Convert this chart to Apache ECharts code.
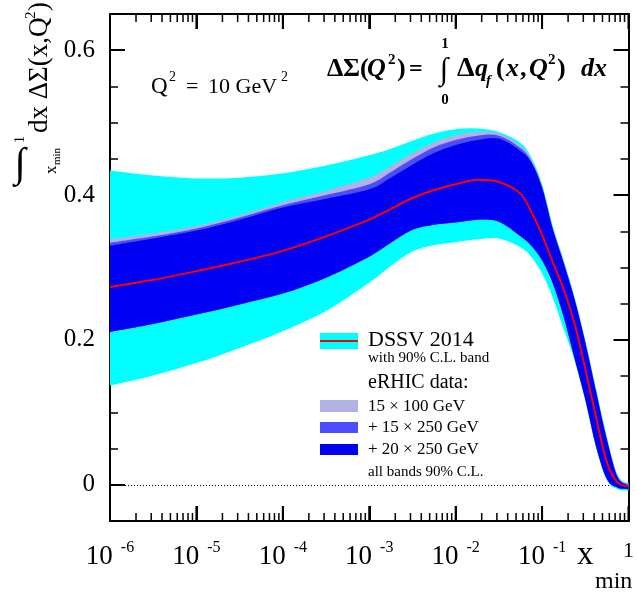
<!DOCTYPE html>
<html>
<head>
<meta charset="utf-8">
<script src="https://cdn.jsdelivr.net/npm/echarts@6/dist/echarts.min.js"></script>
<style>
html, body { margin: 0; padding: 0; background: #fff; }
#main { width: 637px; height: 593px; }
</style>
</head>
<body>
<div id="main"></div>
<script>
// x_min sample points (log spaced)
var xmin = [1e-6, 3.162e-6, 1e-5, 3.162e-5, 1e-4, 3.162e-4, 1e-3, 1.778e-3, 3.162e-3, 5.623e-3, 1e-2,
  1.778e-2, 3.162e-2, 5.623e-2, 7.499e-2, 0.1, 0.1334, 0.1778, 0.2371, 0.3162, 0.4217, 0.5623, 0.7499, 1];

// DSSV 2014 central value
var dssv = [0.273, 0.283, 0.295, 0.308, 0.323, 0.343, 0.366, 0.381, 0.396, 0.407, 0.415,
  0.421, 0.418, 0.402, 0.377, 0.345, 0.307, 0.270, 0.223, 0.160, 0.093, 0.031, 0.003, -0.002];
// DSSV 90% C.L. band
var dssvHi = [0.434, 0.427, 0.423, 0.424, 0.430, 0.441, 0.455, 0.464, 0.475, 0.485, 0.491,
  0.492, 0.487, 0.472, 0.452, 0.415, 0.357, 0.310, 0.260, 0.200, 0.132, 0.066, 0.013, 0.002];
var dssvLo = [0.137, 0.151, 0.168, 0.189, 0.212, 0.240, 0.279, 0.302, 0.322, 0.331, 0.335,
  0.339, 0.340, 0.328, 0.315, 0.292, 0.258, 0.215, 0.172, 0.116, 0.051, 0.006, -0.006, -0.008];
// eRHIC bands (upper edges), common lower edge
var e15x100Hi = [0.339, 0.347, 0.357, 0.372, 0.390, 0.406, 0.424, 0.440, 0.458, 0.473, 0.483,
  0.487, 0.485, 0.468, 0.449, 0.412, 0.354, 0.308, 0.258, 0.198, 0.130, 0.064, 0.012, 0.001];
var e15x250Hi = [0.334, 0.343, 0.354, 0.369, 0.386, 0.400, 0.415, 0.432, 0.450, 0.466, 0.476,
  0.482, 0.482, 0.465, 0.447, 0.411, 0.353, 0.307, 0.257, 0.197, 0.129, 0.063, 0.011, 0.000];
var e20x250Hi = [0.330, 0.340, 0.351, 0.366, 0.383, 0.395, 0.408, 0.424, 0.442, 0.458, 0.469,
  0.476, 0.478, 0.461, 0.445, 0.410, 0.352, 0.306, 0.256, 0.196, 0.128, 0.062, 0.010, -0.001];
var eLo = [0.211, 0.222, 0.235, 0.249, 0.264, 0.286, 0.315, 0.334, 0.352, 0.359, 0.362,
  0.366, 0.363, 0.343, 0.330, 0.310, 0.278, 0.232, 0.175, 0.118, 0.053, 0.008, -0.004, -0.006];

// axis ticks
var yMin = -0.05, yMax = 0.65;
var yMajor = [0, 0.2, 0.4, 0.6];
var xDecades = [-6, -5, -4, -3, -2, -1, 0];
var xMinor = [];
for (var d = -6; d < 0; d++) {
  for (var k = 2; k <= 9; k++) xMinor.push(d + Math.log10(k));
}
var yMinorVals = [];
for (var i = 0; i <= 14; i++) yMinorVals.push(+(yMin + i * 0.05).toFixed(2));

var serif = '"Liberation Serif", "DejaVu Serif", serif';
var black = '#000';
var chart = echarts.init(document.getElementById('main'));

// smooth curve through pixel points (Catmull-Rom as cubic beziers)
function segs(p) {
  var s = '';
  for (var i = 0; i < p.length - 1; i++) {
    var p0 = p[i - 1] || p[i], p1 = p[i], p2 = p[i + 1], p3 = p[i + 2] || p2;
    s += ' C' + (p1[0] + (p2[0] - p0[0]) / 6) + ',' + (p1[1] + (p2[1] - p0[1]) / 6) +
      ' ' + (p2[0] - (p3[0] - p1[0]) / 6) + ',' + (p2[1] - (p3[1] - p1[1]) / 6) +
      ' ' + p2[0] + ',' + p2[1];
  }
  return s;
}

function band(name, lo, hi, color) {
  var data = xmin.map(function (x, i) { return [x, lo[i], hi[i]]; });
  return {
    name: name, type: 'custom', silent: true, clip: true, data: data,
    encode: { x: 0, y: [1, 2] },
    renderItem: function (params, api) {
      if (params.dataIndex !== 0) return null;
      var top = data.map(function (r) { return api.coord([r[0], r[2]]); });
      var bot = data.map(function (r) { return api.coord([r[0], r[1]]); }).reverse();
      var path = 'M' + top[0][0] + ',' + top[0][1] + segs(top) +
        ' L' + bot[0][0] + ',' + bot[0][1] + segs(bot) + ' Z';
      return { type: 'path', shape: { pathData: path }, style: { fill: color } };
    }
  };
}

// log-x tick marks on the bottom and top frame: short broken line segments
function tickSeries(exps, len, width) {
  var data = [];
  exps.forEach(function (e) {
    var x = Math.pow(10, e);
    data.push([x, yMin], [x, yMin + len], [x, '-']);
    data.push([x, yMax], [x, yMax - len], [x, '-']);
  });
  return {
    type: 'line', data: data, connectNulls: false, showSymbol: false, silent: true,
    clip: false, z: 5, lineStyle: { color: black, width: width }
  };
}

function frameAxis(pos, values, len, line, width) {
  var vert = pos === 'left' || pos === 'right';
  return {
    type: 'value', position: pos,
    min: vert ? yMin : -6, max: vert ? yMax : 0, interval: vert ? 0.05 : 1,
    axisLine: { show: line, onZero: false, lineStyle: { color: black, width: 2 } },
    axisTick: { show: !!values, inside: true, length: len, customValues: values || undefined,
      lineStyle: { color: black, width: width || 1.5 } },
    axisLabel: { show: false },
    splitLine: { show: false }
  };
}

// bottom x axis: decade ticks and labels
var xLabelAxis = frameAxis('bottom', null, 0, true);
xLabelAxis.axisTick = { show: true, inside: true, length: 15, lineStyle: { color: black, width: 2 } };
xLabelAxis.axisLabel = {
  show: true, margin: 19, showMinLabel: true, showMaxLabel: true,
  formatter: function (v) { return v === 0 ? '{o|1}' : '{b|10}{e|' + v + '}'; },
  rich: {
    b: { fontSize: 27, lineHeight: 34, fontFamily: serif, color: black },
    e: { fontSize: 16, lineHeight: 16, verticalAlign: 'top', padding: [0, 0, 0, 8], fontFamily: serif, color: black },
    o: { fontSize: 22, lineHeight: 22, fontFamily: serif, color: black }
  }
};
var xTopAxis = frameAxis('top', null, 0, true);
xTopAxis.axisTick = { show: true, inside: true, length: 15, lineStyle: { color: black, width: 2 } };

var yLabelAxis = frameAxis('left', yMajor, 15, false, 2);
yLabelAxis.axisLabel = {
  show: true, customValues: yMajor, margin: 15, fontSize: 25, fontFamily: serif, color: black,
  formatter: function (v) { return v === 0 ? '0' : v.toFixed(1); }
};

var series = [
  band('DSSV 2014', dssvLo, dssvHi, '#00ffff'),
  band('15 x 100 GeV', eLo, e15x100Hi, '#b2b2e5'),
  band('+ 15 x 250 GeV', eLo, e15x250Hi, '#4d4dff'),
  band('+ 20 x 250 GeV', eLo, e20x250Hi, '#0000f2'),
  {
    name: 'DSSV 2014 central', type: 'line', smooth: 0.3, showSymbol: false, silent: true,
    data: xmin.map(function (x, i) { return [x, dssv[i]]; }),
    lineStyle: { color: '#ff0000', width: 2 },
    markLine: {
      z: 1, silent: true, symbol: 'none', label: { show: false },
      lineStyle: { color: black, width: 1, type: [1, 2] },
      data: [{ yAxis: 0 }]
    }
  },
  tickSeries(xDecades, 0.0207, 2),
  tickSeries(xMinor, 0.011, 1.5)
];

// text at a given baseline
function txt(x, base, s, size, extra) {
  return {
    type: 'text', x: x, y: base - 0.34 * size, silent: true,
    style: Object.assign({ text: s, fontSize: size, fontFamily: serif, fill: black,
      align: 'left', verticalAlign: 'middle' }, extra || {})
  };
}
var B = { fontWeight: 'bold' };
var BI = { fontWeight: 'bold', fontStyle: 'italic' };

var graphic = [
  // legend
  { type: 'rect', shape: { x: 320, y: 333, width: 38, height: 16 }, style: { fill: '#00ffff' } },
  { type: 'line', shape: { x1: 320, y1: 341, x2: 358, y2: 341 }, style: { stroke: '#ff0000', lineWidth: 2 } },
  { type: 'rect', shape: { x: 320, y: 400, width: 38, height: 12 }, style: { fill: '#b2b2e5' } },
  { type: 'rect', shape: { x: 320, y: 422, width: 38, height: 11 }, style: { fill: '#4d4dff' } },
  { type: 'rect', shape: { x: 320, y: 444, width: 38, height: 11 }, style: { fill: '#0000f2' } },
  txt(368, 348, 'DSSV 2014', 22),
  txt(368, 363, 'with 90% C.L. band', 15),
  txt(368, 390, 'eRHIC data:', 20),
  txt(368, 412, '15 \u00d7 100 GeV', 17),
  txt(368, 433, '+ 15 \u00d7 250 GeV', 17),
  txt(368, 455, '+ 20 \u00d7 250 GeV', 17),
  txt(368, 477, 'all bands 90% C.L.', 15),
  // Q^2 label
  txt(151, 95, 'Q', 23),
  txt(169, 82, '2', 14),
  txt(186, 95, '=', 22),
  txt(208, 95, '10 GeV', 22),
  txt(281, 82, '2', 14),
  // formula
  txt(327, 78, '\u0394', 26, B),
  txt(343, 78, '\u03a3', 26, B),
  txt(360, 78, '(', 26, B),
  txt(367, 78, 'Q', 26, BI),
  txt(388, 65, '2', 15, B),
  txt(397, 78, ')', 26, B),
  txt(409, 78, '=', 24, B),
  txt(444, 82, '\u222b', 31, { align: 'center', fontWeight: 'bold' }),
  txt(445, 49, '1', 15, { align: 'center', fontWeight: 'bold' }),
  txt(445, 105, '0', 15, { align: 'center', fontWeight: 'bold' }),
  txt(457, 78, '\u0394', 28, B),
  txt(475, 78, 'q', 26, BI),
  txt(486, 86, 'f', 15, BI),
  txt(496, 78, '(', 26, B),
  txt(506, 78, 'x', 26, BI),
  txt(520, 78, ',', 26, B),
  txt(529, 78, 'Q', 26, BI),
  txt(548, 65, '2', 15, B),
  txt(557, 78, ')', 26, B),
  txt(581, 78, 'dx', 26, BI),
  // x axis title
  txt(577, 567, 'x', 33),
  txt(595, 590, 'min', 24),
  // y axis title: integral sign upright, rest rotated
  txt(20, 179, '\u222b', 41, { align: 'center' }),
  {
    type: 'group', x: 49, y: 195, rotation: Math.PI / 2, silent: true,
    children: [
      txt(52, -24, '1', 14),
      txt(21, 8, 'x', 17),
      txt(30, 12, 'min', 11),
      txt(62, 0, 'dx \u0394\u03a3(x,Q', 27),
      txt(176, -13, '2', 15),
      txt(184, 0, ')', 27)
    ]
  }
];

var option = {
  animation: false,
  backgroundColor: '#fff',
  grid: { left: 110, right: 5, top: 14, bottom: 72, containLabel: false },
  xAxis: [
    { type: 'log', logBase: 10, min: 1e-6, max: 1, show: false },
    xLabelAxis,
    xTopAxis
  ],
  yAxis: [
    frameAxis('left', yMinorVals, 8, true),
    yLabelAxis,
    frameAxis('right', yMinorVals, 8, true),
    frameAxis('right', yMajor, 15, false, 2)
  ],
  series: series,
  graphic: graphic
};

option && chart.setOption(option);
</script>
</body>
</html>
